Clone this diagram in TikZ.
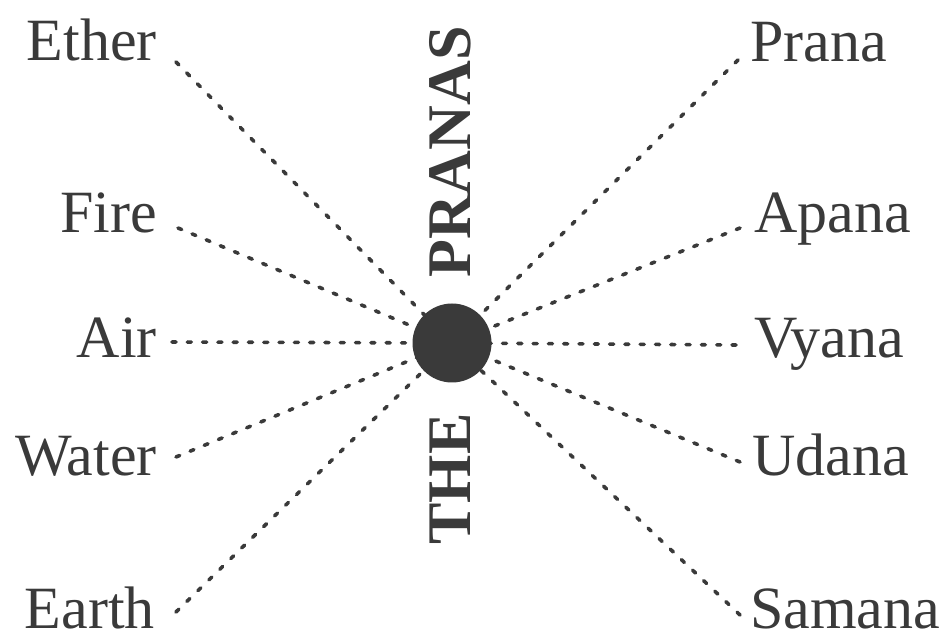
\documentclass[tikz,border=0pt]{standalone}
\usepackage{fontspec}
\setmainfont{Liberation Serif}
\usepackage{tikz}
\definecolor{ink}{HTML}{3A3A3A}

\begin{document}
\begin{tikzpicture}[x=1pt, y=1pt,
    every node/.style={font=\fontsize{60}{60}\selectfont, text=ink, inner sep=0pt},
    ray/.style={draw=ink, line width=3.6pt, line cap=round, dash pattern=on 4pt off 11.3pt},
    title/.style={font=\fontsize{62}{62}\selectfont\bfseries, rotate=90}]
  \useasboundingbox (0,0) rectangle (941,639);
  % centre
  \coordinate (C) at (452,296);
  % left column
  \node[anchor=base east] (Ether) at (157,578) {Ether};
  \node[anchor=base east] (Fire)  at (157,406) {Fire};
  \node[anchor=base east] (Air)   at (157,281) {Air};
  \node[anchor=base east] (Water) at (157,163) {Water};
  \node[anchor=base east] (Earth) at (155,10)  {Earth};
  % right column
  \node[anchor=base west] (Prana)  at (750,577) {Prana};
  \node[anchor=base west] (Apana)  at (754,406) {Apana};
  \node[anchor=base west] (Vyana)  at (754,281) {Vyana};
  \node[anchor=base west] (Udana)  at (752,163) {Udana};
  \node[anchor=base west] (Samana) at (750,10)  {Samana};
  % free ends of the rays
  \coordinate (e1) at (176,577);
  \coordinate (e2) at (178,411);
  \coordinate (e3) at (172,297);
  \coordinate (e4) at (176,182);
  \coordinate (e5) at (176,27);
  \coordinate (p1) at (738,579);
  \coordinate (p2) at (740,411);
  \coordinate (p3) at (736,294);
  \coordinate (p4) at (740,177);
  \coordinate (p5) at (740,24);
  \foreach \e in {e1,e2,e3,e4,e5,p1,p2,p3,p4,p5}
    \draw[ray] (\e) -- (C);
  \node[circle, fill=ink, minimum size=79pt] (dot) at (C) {};
  \node[title] (pranas) at (450,487) {PRANAS};
  \node[title] (the) at (450,160) {THE};
\end{tikzpicture}
\end{document}
